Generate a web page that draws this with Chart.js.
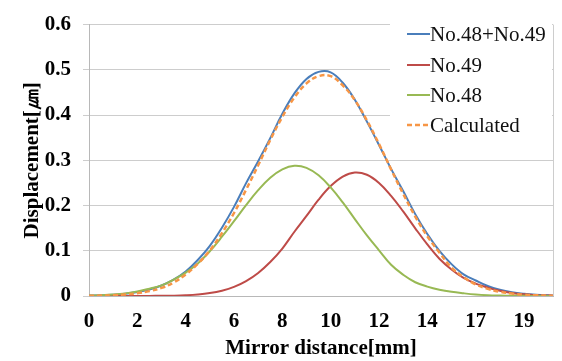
<!DOCTYPE html>
<html>
<head>
<meta charset="utf-8">
<script src="https://cdn.jsdelivr.net/npm/chart.js@4/dist/chart.umd.min.js"></script>
<style>
  html, body { margin: 0; padding: 0; background: #ffffff; }
  #wrap { width: 562px; height: 361px; position: relative; }
</style>
</head>
<body>
<div id="wrap"><canvas id="chart" width="562" height="361"></canvas></div>
<script>
// Tick labels shown along the mirror-distance axis (one per axis step)
const xTickLabels = ['0', '2', '4', '6', '8', '10', '12', '14', '17', '19'];
const yTickLabels = ['0', '0.1', '0.2', '0.3', '0.4', '0.5', '0.6'];

// Sample positions along the x axis, in axis steps
const xPos = [0, 0.25, 0.5, 0.75, 1, 1.25, 1.5, 1.75, 2, 2.25, 2.5, 2.75, 3, 3.25, 3.5, 3.75,
  4, 4.25, 4.5, 4.75, 5, 5.25, 5.5, 5.75, 6, 6.25, 6.5, 6.75, 7, 7.25, 7.5, 7.75,
  8, 8.25, 8.5, 8.75, 9, 9.25, 9.5, 9.6];

// Displacement [um], measured with both actuators (No.48+No.49)
const combined = [0.001, 0.0015, 0.0028, 0.005, 0.0087, 0.0144, 0.0231, 0.036, 0.054, 0.0795,
  0.111, 0.151, 0.197, 0.2495, 0.298, 0.349, 0.403, 0.448, 0.480, 0.4955,
  0.4945, 0.4715, 0.434, 0.3855, 0.334, 0.281, 0.232, 0.181, 0.137, 0.0997,
  0.0704, 0.0479, 0.0343, 0.0221, 0.0138, 0.0083, 0.0049, 0.0027, 0.0015, 0.0012];

// Displacement [um], actuator No.49 alone
const no49 = [0, 0, 0.00001, 0.00003, 0.00007, 0.0002, 0.0004, 0.0008, 0.0017, 0.0034,
  0.0065, 0.0118, 0.0202, 0.033, 0.051, 0.0752, 0.105, 0.142, 0.177, 0.213,
  0.243, 0.264, 0.273, 0.268, 0.250, 0.2215, 0.187, 0.1496, 0.114, 0.0824,
  0.0585, 0.040, 0.0275, 0.0186, 0.0117, 0.0067, 0.0037, 0.0019, 0.001, 0.0008];

// Displacement [um], actuator No.48 alone
const no48 = [0.0009, 0.0018, 0.0033, 0.0058, 0.0099, 0.0162, 0.0234, 0.0361, 0.0517, 0.072,
  0.099, 0.131, 0.1655, 0.201, 0.234, 0.2615, 0.280, 0.288, 0.2834, 0.2668,
  0.240, 0.2068, 0.170, 0.134, 0.101, 0.069, 0.047, 0.0304, 0.0208, 0.0139,
  0.0092, 0.006, 0.0034, 0.0018, 0.001, 0.0005, 0.0003, 0.0001, 0, 0];

// Calculated displacement [um]
const calculated = [0.0005, 0.001, 0.0019, 0.0035, 0.0062, 0.0108, 0.0179, 0.0299, 0.0476, 0.0712,
  0.101, 0.139, 0.1835, 0.235, 0.289, 0.345, 0.396, 0.439, 0.470, 0.486,
  0.486, 0.4656, 0.433, 0.388, 0.336, 0.280, 0.226, 0.1756, 0.132, 0.096,
  0.0628, 0.0418, 0.0257, 0.0158, 0.0094, 0.0053, 0.0029, 0.0016, 0.0008, 0.0006];

const seriesNames = ['No.48+No.49', 'No.49', 'No.48', 'Calculated'];
const seriesColors = ['#4a7ebb', '#be4b48', '#98b954', '#f79646'];

const SERIF = '"Liberation Serif", "Times New Roman", Times, serif';
const FONT_SIZE = 21;
const GRID = '#cdcdcd';
const AXIS = '#b8b8b8';

const toPoints = (ys) => ys.map((y, i) => ({ x: xPos[i], y: y }));

function makeSet(i, values, extra) {
  return Object.assign({
    label: seriesNames[i],
    data: toPoints(values),
    borderColor: seriesColors[i],
    backgroundColor: seriesColors[i],
    borderWidth: 2,
    pointRadius: 0,
    fill: false,
    tension: 0.4
  }, extra || {});
}

// Right edge of the plot frame
const frame = {
  id: 'frame',
  beforeDatasetsDraw(chart) {
    const { ctx, chartArea: a } = chart;
    ctx.save();
    ctx.strokeStyle = GRID;
    ctx.lineWidth = 1;
    ctx.beginPath();
    ctx.moveTo(Math.round(a.right) + 0.5, a.top);
    ctx.lineTo(Math.round(a.right) + 0.5, a.bottom);
    ctx.stroke();
    ctx.restore();
  }
};

// Legend box in the upper right of the plot
const insetLegend = {
  id: 'insetLegend',
  afterDraw(chart) {
    const { ctx, chartArea: a } = chart;
    const boxLeft = 390, boxTop = 18;
    ctx.save();
    ctx.fillStyle = '#ffffff';
    ctx.fillRect(boxLeft, boxTop, a.right - boxLeft - 1, 122);
    ctx.font = FONT_SIZE + 'px ' + SERIF;
    ctx.textBaseline = 'middle';
    ctx.textAlign = 'left';
    const rowY = [34, 65, 95, 125];
    chart.data.datasets.forEach((ds, i) => {
      const y = rowY[i];
      ctx.strokeStyle = ds.borderColor;
      ctx.lineWidth = ds.borderWidth;
      ctx.setLineDash(ds.borderDash || []);
      ctx.beginPath();
      ctx.moveTo(407, y);
      ctx.lineTo(430, y);
      ctx.stroke();
      ctx.setLineDash([]);
      ctx.fillStyle = '#111111';
      ctx.fillText(ds.label, 430, y + 1);
    });
    ctx.restore();
  }
};

const boldFont = { family: SERIF, size: FONT_SIZE, weight: 'bold' };

new Chart(document.getElementById('chart'), {
  type: 'line',
  data: {
    datasets: [
      makeSet(0, combined, { order: 3 }),
      makeSet(1, no49, { order: 2 }),
      makeSet(2, no48, { order: 1 }),
      makeSet(3, calculated, { order: 0, borderDash: [5, 3], borderWidth: 2.5 })
    ]
  },
  options: {
    responsive: false,
    animation: false,
    devicePixelRatio: 1,
    layout: { padding: { left: 0, right: 9, top: 16, bottom: 0 } },
    plugins: {
      legend: { display: false },
      tooltip: { enabled: false }
    },
    scales: {
      x: {
        type: 'linear',
        min: 0,
        max: 9.6,
        afterBuildTicks(scale) {
          scale.ticks = xTickLabels.map((_, i) => ({ value: i }));
        },
        afterFit(scale) { scale.height = 65; },
        grid: { display: false, drawTicks: false },
        border: { display: true, color: AXIS, width: 1 },
        ticks: {
          autoSkip: false,
          maxRotation: 0,
          padding: 13,
          color: '#000000',
          font: boldFont,
          callback: (v) => xTickLabels[Math.round(v)]
        },
        title: {
          display: true,
          text: 'Mirror distance[mm]',
          color: '#000000',
          font: boldFont,
          padding: { top: 2, bottom: 0 }
        }
      },
      y: {
        min: 0,
        max: 0.6,
        afterBuildTicks(scale) {
          scale.ticks = yTickLabels.map((_, i) => ({ value: i / 10 }));
        },
        afterFit(scale) { scale.width = 89; },
        grid: { color: GRID, lineWidth: 1, drawTicks: true, tickLength: 6, tickColor: GRID },
        border: { display: true, color: AXIS, width: 1 },
        ticks: {
          padding: 12,
          color: '#000000',
          font: boldFont,
          callback: (v, i) => yTickLabels[i]
        },
        title: {
          display: true,
          text: 'Displacement[㎛]',
          color: '#000000',
          font: boldFont,
          padding: { top: 20, bottom: 0 }
        }
      }
    }
  },
  plugins: [frame, insetLegend]
});
</script>
</body>
</html>
